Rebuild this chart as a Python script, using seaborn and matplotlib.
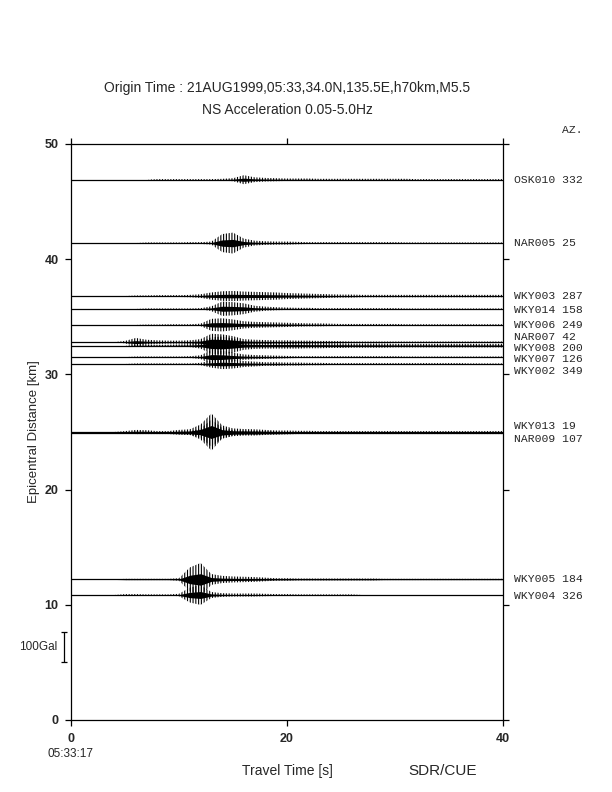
import numpy as np
import pandas as pd
import matplotlib
matplotlib.use("Agg")
import matplotlib.pyplot as plt
import seaborn as sns

# --- station data (distance km, azimuth deg) ---
stations = ["OSK010", "NAR005", "WKY003", "WKY014", "WKY006", "NAR007", "WKY008",
            "WKY007", "WKY002", "WKY013", "NAR009", "WKY005", "WKY004"]
distance_km = [46.9, 41.4, 36.8, 35.7, 34.3, 32.8, 32.5, 31.5, 30.9, 25.0, 24.9, 12.2, 10.85]
azimuth = [332, 25, 287, 158, 249, 42, 200, 126, 349, 19, 107, 184, 326]

# --- trace envelopes: peak acceleration (Gal) per second, t = 0..40 s ---
time_s = list(range(41))
env_gal = {
    "OSK010": [0, 0, 0, 0, 0, 0, 0, 0, 2, 2, 2, 2, 2, 2, 3, 5, 15, 8, 6, 5, 4, 4, 4, 3,
               3, 3, 3, 3, 3, 3, 3, 3, 2, 2, 2, 2, 2, 2, 2, 2, 2],
    "NAR005": [0, 0, 0, 0, 0, 0, 0, 2, 2, 2, 2, 3, 3, 5, 30, 35, 15, 8, 6, 5, 5, 4,
               3, 3, 3, 3, 3, 3, 3, 3, 3, 2, 2, 2, 2, 2, 2, 2, 2, 2, 2],
    "WKY003": [0, 0, 0, 0, 0, 0, 2, 2, 3, 3, 3, 4, 6, 12, 16, 17, 15, 14, 13, 12, 10, 9, 8, 7, 6,
               5, 5, 4, 4, 4, 4, 4, 4, 4, 4, 4, 4, 4, 4, 4, 4],
    "WKY014": [0, 0, 0, 0, 0, 0, 0, 1, 1, 1, 1, 1, 2, 8, 24, 22, 18, 10, 7, 5, 4,
               3, 3, 2, 2, 2, 2, 2, 2, 2, 2, 1, 1, 1, 1, 1, 1, 1, 1, 1, 1],
    "WKY006": [0, 0, 0, 0, 0, 0, 0, 1, 1, 2, 2, 2, 4, 20, 22, 18, 12, 10, 9, 8, 7, 6, 5, 5, 4,
               3, 3, 3, 3, 3, 3, 2, 2, 2, 2, 2, 2, 2, 2, 2, 2],
    "NAR007": [0, 0, 0, 0, 0, 4, 14, 8, 6, 5, 5, 6, 10, 28, 26, 20, 10, 8, 7, 6, 6, 5, 5, 4, 4, 3,
               2, 2, 2, 2, 2, 2, 2, 2, 2, 2, 2, 2, 2, 2, 2],
    "WKY008": [0, 0, 0, 0, 0, 0, 3, 3, 3, 3, 4, 5, 10, 28, 30, 24, 14, 11, 10, 10, 10, 10, 9, 9, 8,
               8, 7, 7, 7, 7, 6, 6, 6, 6, 6, 6, 6, 6, 6, 6, 6],
    "WKY007": [0, 0, 0, 0, 0, 0, 2, 2, 2, 2, 2, 3, 6, 24, 22, 15, 9, 7, 6, 5, 4,
               3, 3, 3, 3, 3, 3, 3, 3, 3, 3, 2, 2, 2, 2, 2, 2, 2, 2, 2, 2],
    "WKY002": [0, 0, 0, 0, 0, 0, 2, 2, 2, 2, 2, 2, 4, 12, 17, 15, 10, 8, 6, 6, 5, 5, 4,
               4, 3, 3, 3, 3, 3, 3, 3, 3, 3, 3, 3, 3, 3, 2, 2, 2, 2],
    "WKY013": [0, 0, 0, 0, 0, 3, 7, 6, 3, 3, 7, 9, 25, 62, 22, 12, 10, 9, 7, 5, 5, 4, 4,
               3, 3, 3, 3, 3, 3, 3, 3, 3, 3, 3, 3, 3, 3, 3, 3, 3, 3],
    "NAR009": [0, 0, 0, 0, 0, 0, 3, 3, 3, 3, 5, 6, 15, 45, 18, 10, 8, 8, 6, 5, 4,
               3, 3, 3, 3, 3, 3, 3, 3, 3, 3, 3, 3, 3, 3, 3, 3, 3, 3, 3, 3],
    "WKY005": [0, 0, 0, 0, 0, 2, 2, 2, 2, 2, 4, 40, 55, 18, 12, 10, 9, 8, 6, 4, 4,
               3, 3, 3, 3, 3, 3, 3, 3, 2, 2, 2, 2, 2, 2, 2, 2, 2, 2, 2, 2],
    "WKY004": [0, 0, 0, 0, 0, 3, 3, 2, 2, 2, 4, 25, 33, 10, 6, 5, 5, 5, 4, 3, 3,
               2, 2, 2, 2, 2, 2, 0, 0, 0, 0, 0, 0, 0, 0, 0, 0, 0, 0, 0, 0],
}

# label nudges (km) so the names don't overlap in the cluster
label_shift = {"WKY014": -0.1, "NAR007": 0.45, "WKY008": -0.2, "WKY007": -0.2,
               "WKY002": -0.6, "WKY013": 0.5, "NAR009": -0.5, "WKY004": -0.1}

GAL_TO_KM = 2.6 / 100.0  # 100 Gal bar is 2.6 km tall on the plot

sns.set_theme(style="ticks")
plt.rcParams["font.family"] = ["Liberation Sans", "DejaVu Sans"]
plt.rcParams["hatch.linewidth"] = 0.8
plt.rcParams["hatch.color"] = "black"

fig = plt.figure(figsize=(6.12, 7.92), dpi=100)
ax = fig.add_axes([71 / 612, 72 / 792, 432 / 612, 576 / 792])

df = pd.DataFrame(env_gal, index=time_s)
for name, dist, az in zip(stations, distance_km, azimuth):
    env = df[name].to_numpy() * GAL_TO_KM
    ax.axhline(dist, color="black", lw=0.9)
    # wiggles drawn as dense vertical strokes inside the envelope
    ax.fill_between(df.index, dist - env, dist + env, facecolor="none",
                    edgecolor="black", hatch="||||||", lw=0)
    ax.fill_between(df.index, dist - 0.35 * env, dist + 0.35 * env, color="black", lw=0)
    ax.annotate(f"{name} {az}", xy=(40, dist + label_shift.get(name, 0)),
                xytext=(8, 0), textcoords="offset points", va="center", ha="left",
                fontsize=8.2, family="Liberation Mono", annotation_clip=False)

ax.set_xlim(0, 40)
ax.set_ylim(0, 50)
ax.set_xticks([0, 20, 40])
ax.set_yticks([0, 10, 20, 30, 40, 50])
ax.tick_params(direction="out", length=4, width=0.9, color="black",
               top=True, right=True, labelsize=9, pad=5)
for lab in ax.get_xticklabels() + ax.get_yticklabels():
    lab.set_fontweight("bold")
for sp in ax.spines.values():
    sp.set_visible(True)
    sp.set_color("black")
    sp.set_linewidth(0.9)

ax.set_xlabel("Travel Time [s]", fontsize=10, labelpad=14)
ax.set_ylabel("Epicentral Distance [km]", fontsize=9.5, labelpad=3)

# 100 Gal scale bar
ax.errorbar([-0.65], [6.3], yerr=[[1.3], [1.3]], color="black", lw=0.9,
            capsize=2.5, capthick=0.9, clip_on=False)
ax.text(-1.3, 6.3, "100Gal", ha="right", va="center", fontsize=8.5)

ax.text(45.5, 51.2, "AZ.", ha="left", va="center", fontsize=8.2, family="Liberation Mono")
fig.text(287 / 612, 1 - 88 / 792, "Origin Time : 21AUG1999,05:33,34.0N,135.5E,h70km,M5.5",
         ha="center", va="center", fontsize=10)
fig.text(287 / 612, 1 - 110 / 792, "NS Acceleration 0.05-5.0Hz",
         ha="center", va="center", fontsize=10)
fig.text(71 / 612, 1 - 754 / 792, "05:33:17", ha="center", va="center", fontsize=8.5)
fig.text(443 / 612, 1 - 771 / 792, "SDR/CUE", ha="center", va="center", fontsize=11)

fig.savefig("out.png", dpi=100, facecolor="white")
